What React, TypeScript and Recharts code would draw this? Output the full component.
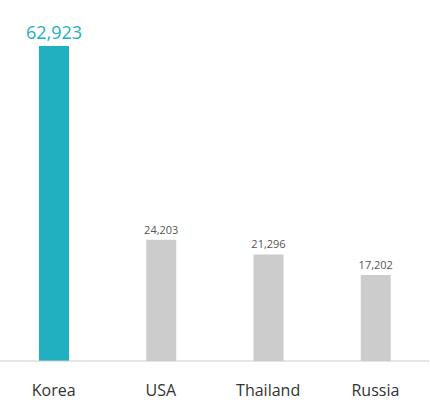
import { BarChart, Bar, XAxis, YAxis, Cell, LabelList } from "recharts";

const countries = ["Korea", "USA", "Thailand", "Russia"];
const visitors = [62923, 24203, 21296, 17202];

const HIGHLIGHT = "#21b0bf";
const MUTED = "#cccccc";

const data = countries.map((name, i) => ({ name, value: visitors[i] }));

const fmt = (v: number) => v.toLocaleString("en-US");

const ValueLabel = (props: any) => {
  const { x, y, width, value, index } = props;
  const top = index === 0;
  return (
    <text
      x={Number(x) + Number(width) / 2}
      y={Number(y) - (top ? 7 : 6)}
      textAnchor="middle"
      fill={top ? HIGHLIGHT : "#555555"}
      fontSize={top ? 18 : 11}
      fontFamily="'Open Sans', sans-serif"
    >
      {fmt(Number(value))}
    </text>
  );
};

export default function App() {
  return (
    <div style={{ position: "absolute", left: 0, top: 0, background: "#fff" }}>
      <BarChart
        width={430}
        height={400}
        data={data}
        margin={{ top: 46, right: 1, left: 0, bottom: 0 }}
        barSize={30}
      >
        <YAxis hide domain={[0, "dataMax"]} />
        <XAxis
          dataKey="name"
          height={39}
          axisLine={{ stroke: "#cccccc" }}
          tickLine={false}
          tick={{ fill: "#333333", fontSize: 16, fontFamily: "'Open Sans', sans-serif" }}
          tickMargin={18}
          interval={0}
        />
        <Bar dataKey="value" isAnimationActive={false}>
          {data.map((d, i) => (
            <Cell key={d.name} fill={i === 0 ? HIGHLIGHT : MUTED} />
          ))}
          <LabelList dataKey="value" content={ValueLabel} />
        </Bar>
      </BarChart>
    </div>
  );
}
